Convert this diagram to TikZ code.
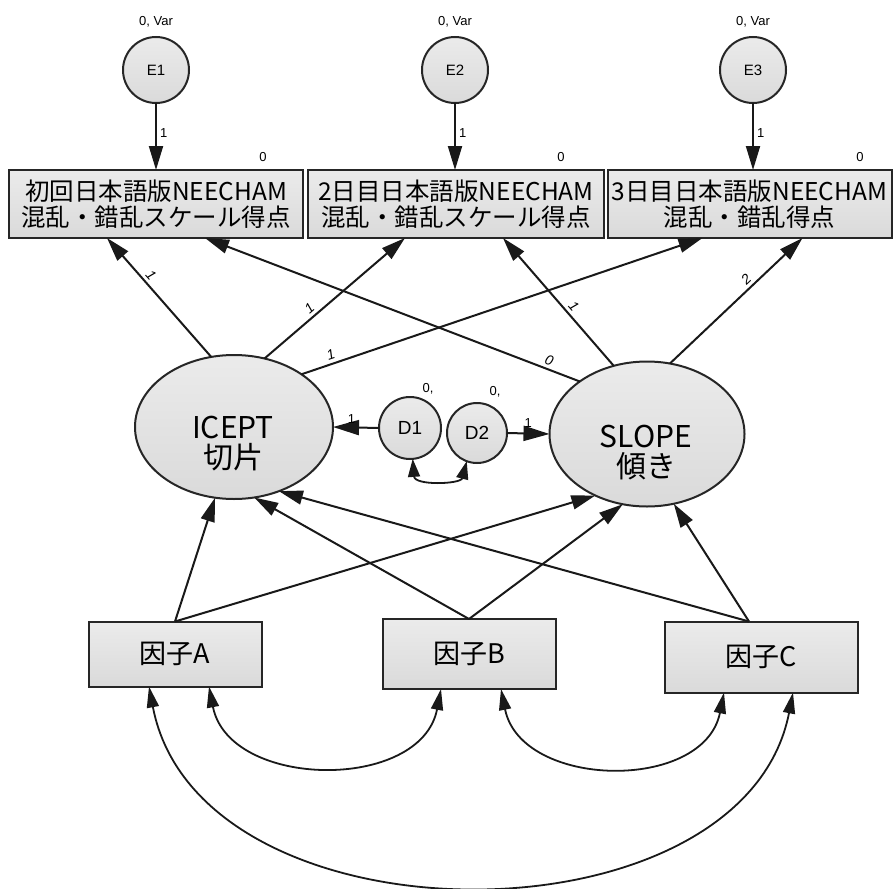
\documentclass[tikz,border=0pt]{standalone}
\usepackage{fontspec}
\setmainfont{Noto Sans CJK JP}
\newfontfamily\lblfont{Liberation Sans}
\usetikzlibrary{arrows.meta,shapes.geometric,calc}

\definecolor{nodefill}{HTML}{EBEBEB}
\definecolor{nodefilldark}{HTML}{DADADA}

\begin{document}
\begin{tikzpicture}[x=1pt,y=-1pt,
  every node/.style={inner sep=0pt,outer sep=0pt},
  shaded/.style={top color=nodefill,bottom color=nodefilldark,line width=2pt,draw=black!85},
  obsbox/.style={shaded,rectangle,align=center},
  latent/.style={shaded,ellipse},
  errc/.style={shaded,circle},
  arr/.style={line width=2pt,draw=black!90,-{Triangle[length=24pt,width=14pt]}},
  covarr/.style={line width=1.8pt,draw=black!90,{Triangle[length=21pt,width=12pt]}-{Triangle[length=21pt,width=12pt]}},
  smalltxt/.style={font=\lblfont\fontsize{13}{15}\selectfont},
  pathlbl/.style={font=\lblfont\itshape\fontsize{14}{16}\selectfont,sloped},
  boxtxt/.style={font=\fontsize{24.5}{26.5}\selectfont},
  factxt/.style={font=\fontsize{27}{30}\selectfont}
]
\useasboundingbox (0,0) rectangle (893,888);

% error terms
\node[errc,minimum size=66pt,font=\lblfont\fontsize{15}{17}\selectfont] (E1) at (156,70) {E1};
\node[errc,minimum size=66pt,font=\lblfont\fontsize{15}{17}\selectfont] (E2) at (455,70) {E2};
\node[errc,minimum size=66pt,font=\lblfont\fontsize{15}{17}\selectfont] (E3) at (753,70) {E3};
\node[smalltxt] (E1v) at (156,22) {0, Var};
\node[smalltxt] (E2v) at (455,22) {0, Var};
\node[smalltxt] (E3v) at (753,22) {0, Var};

% observed scores
\node[obsbox,boxtxt,minimum width=294pt,minimum height=68pt] (S1) at (156,204) {初回日本語版NEECHAM\\混乱・錯乱スケール得点};
\node[obsbox,boxtxt,minimum width=296pt,minimum height=68pt] (S2) at (456,204) {2日目日本語版NEECHAM\\混乱・錯乱スケール得点};
\node[obsbox,boxtxt,minimum width=284pt,minimum height=68pt] (S3) at (749.5,204) {3日目日本語版NEECHAM\\混乱・錯乱得点};
\node[smalltxt] (S1i) at (263,157) {0};
\node[smalltxt] (S2i) at (561,157) {0};
\node[smalltxt] (S3i) at (860,157) {0};

% growth factors
\node[latent,minimum width=198pt,minimum height=144pt] (IC) at (234,427) {};
\node[latent,minimum width=195pt,minimum height=145pt] (SL) at (647,434) {};
\node[align=center,font=\fontsize{30}{30}\selectfont] (ICt) at (233,444) {ICEPT\\切片};
\node[align=center,font=\fontsize{30}{30}\selectfont] (SLt) at (646,453) {SLOPE\\傾き};

% disturbances
\node[errc,minimum size=62pt,font=\lblfont\fontsize{19}{21}\selectfont] (D1) at (410,428) {D1};
\node[errc,minimum size=60pt,font=\lblfont\fontsize{19}{21}\selectfont] (D2) at (477,433) {D2};
\node[smalltxt] (D1v) at (428,389) {0,};
\node[smalltxt] (D2v) at (495,392) {0,};

% predictors
\node[obsbox,factxt,minimum width=173pt,minimum height=65pt] (A) at (175,654) {因子A};
\node[obsbox,factxt,minimum width=173pt,minimum height=70pt] (B) at (469,654) {因子B};
\node[obsbox,factxt,minimum width=193pt,minimum height=71pt] (C) at (761,657) {因子C};

% error loadings
\draw[arr] (E1) -- (E1 |- S1.north) node[pos=.45,right=4pt,smalltxt] {1};
\draw[arr] (E2) -- (E2 |- S2.north) node[pos=.45,right=4pt,smalltxt] {1};
\draw[arr] (E3) -- (E3 |- S3.north) node[pos=.45,right=4pt,smalltxt] {1};

% intercept loadings
\draw[arr] (IC.108) -- ([xshift=-49pt]S1.south) node[pos=.64,pathlbl,above=4pt] {1};
\draw[arr] (IC.66) -- ([xshift=-51pt]S2.south) node[pos=.36,pathlbl,above=4pt] {1};
\draw[arr] (IC.38) -- ([xshift=-47pt]S3.south) node[pos=.08,pathlbl,above=4pt] {1};

% slope loadings
\draw[arr] (SL.142) -- ([xshift=49pt]S1.south) node[pos=.09,pathlbl,above=4pt] {0};
\draw[arr] (SL.116) -- ([xshift=47pt]S2.south) node[pos=.42,pathlbl,above=4pt] {1};
\draw[arr] (SL.72) -- ([xshift=53pt]S3.south) node[pos=.62,pathlbl,above=4pt] {2};

% disturbances into factors
\draw[arr,-{Triangle[length=26pt,width=15pt]}] (D1.west) -- (IC.east) node[pos=.6,above=4pt,smalltxt] {1};
\draw[arr,-{Triangle[length=26pt,width=15pt]}] (D2.east) -- (SL.west) node[pos=.5,above=6pt,smalltxt] {1};
\draw[covarr,{Triangle[length=18pt,width=12pt]}-{Triangle[length=18pt,width=12pt]}] (D1.275) .. controls +(2,27) and +(-6,23) .. (D2.250);

% predictor paths
\draw[arr] (A.north) -- (IC.255);
\draw[arr] (A.north) -- (SL.230);
\draw[arr] (B.north) -- (IC.286);
\draw[arr] (B.north) -- (SL.251);
\draw[arr] ([xshift=-12pt]C.north) -- (IC.305);
\draw[arr] ([xshift=-12pt]C.north) -- (SL.291);

% predictor covariances
\draw[covarr] ([xshift=34pt]A.south) .. controls +(20,103) and +(-20,103) .. ([xshift=-28pt]B.south);
\draw[covarr] ([xshift=32pt]B.south) .. controls +(20,100) and +(-20,100) .. ([xshift=-37pt]C.south);
\draw[covarr] ([xshift=-26pt]A.south) .. controls +(50,263) and +(-50,257) .. ([xshift=32pt]C.south);
\end{tikzpicture}
\end{document}
